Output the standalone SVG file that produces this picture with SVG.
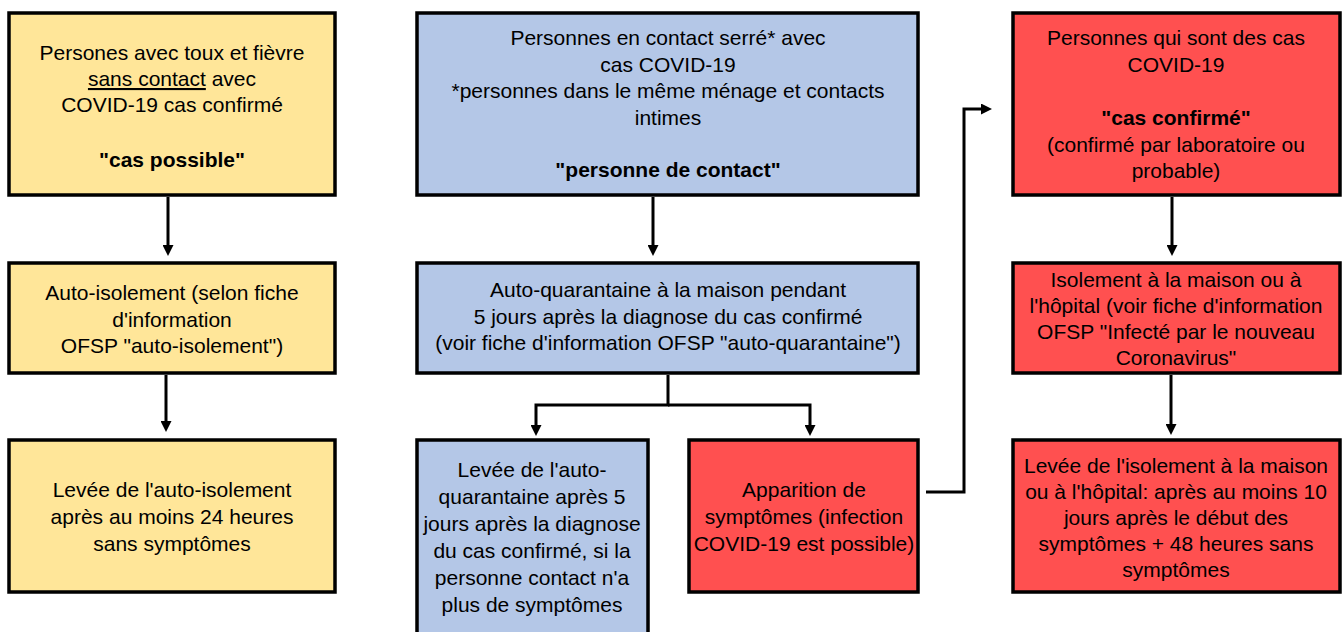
<svg xmlns="http://www.w3.org/2000/svg" width="1344" height="632" viewBox="0 0 1344 632">
<defs>
<style>
.box{stroke:#000;stroke-width:3.5}
.y{fill:#FFE699}
.b{fill:#B4C7E7}
.r{fill:#FF5050}
text{font-family:"Liberation Sans",Arial,sans-serif;font-size:21px;fill:#000;text-anchor:middle}
.bold{font-weight:bold}
.conn{stroke:#000;stroke-width:3;fill:none}
</style>
<marker id="ah" markerUnits="userSpaceOnUse" markerWidth="11" markerHeight="11" refX="3" refY="5.5" orient="auto">
<path d="M0,0 L11,5.5 L0,11 z" fill="#000"/>
</marker>
</defs>
<rect width="1344" height="632" fill="#fff"/>

<g id="connectors">
<path class="conn" d="M168,197 V248" marker-end="url(#ah)"/>
<path class="conn" d="M166,375 V424" marker-end="url(#ah)"/>
<path class="conn" d="M653,197 V248" marker-end="url(#ah)"/>
<path class="conn" d="M668,375 V405 H536 V428" marker-end="url(#ah)"/>
<path class="conn" d="M668,405 H810 V428" marker-end="url(#ah)"/>
<path class="conn" d="M926,492 H964 V109 H984" marker-end="url(#ah)"/>
<path class="conn" d="M1172,197 V248" marker-end="url(#ah)"/>
<path class="conn" d="M1171,375 V427" marker-end="url(#ah)"/>
</g>

<g id="cas-possible">
<rect class="box y" x="9" y="13" width="326" height="182"/>
<text x="172" y="60">Persones avec toux et fièvre</text>
<text x="172" y="86"><tspan text-decoration="underline">sans contact</tspan> avec</text>
<text x="172" y="112">COVID-19 cas confirmé</text>
<text x="172" y="167" class="bold">"cas possible"</text>
</g>

<g id="auto-isolement">
<rect class="box y" x="9" y="263" width="326" height="110"/>
<text x="172" y="300">Auto-isolement (selon fiche</text>
<text x="172" y="327">d'information</text>
<text x="172" y="353">OFSP "auto-isolement")</text>
</g>

<g id="levee-auto-isolement">
<rect class="box y" x="9" y="440" width="326" height="152"/>
<text x="172" y="497">Levée de l'auto-isolement</text>
<text x="172" y="524">après au moins 24 heures</text>
<text x="172" y="551">sans symptômes</text>
</g>

<g id="personne-contact">
<rect class="box b" x="417" y="13" width="501" height="182"/>
<text x="668" y="45">Personnes en contact serré* avec</text>
<text x="668" y="72">cas COVID-19</text>
<text x="668" y="98">*personnes dans le même ménage et contacts</text>
<text x="668" y="125">intimes</text>
<text x="668" y="177" class="bold">"personne de contact"</text>
</g>

<g id="auto-quarantaine">
<rect class="box b" x="417" y="263" width="501" height="110"/>
<text x="668" y="297">Auto-quarantaine à la maison pendant</text>
<text x="668" y="324">5 jours après la diagnose du cas confirmé</text>
<text x="668" y="350">(voir fiche d'information OFSP "auto-quarantaine")</text>
</g>

<g id="levee-auto-quarantaine">
<rect class="box b" x="417" y="440" width="231" height="210"/>
<text x="532" y="477">Levée de l'auto-</text>
<text x="532" y="504">quarantaine après 5</text>
<text x="532" y="531">jours après la diagnose</text>
<text x="532" y="558">du cas confirmé, si la</text>
<text x="532" y="585">personne contact n'a</text>
<text x="532" y="612">plus de symptômes</text>
</g>

<g id="apparition-symptomes">
<rect class="box r" x="689" y="440" width="229" height="152"/>
<text x="804" y="497">Apparition de</text>
<text x="804" y="524">symptômes (infection</text>
<text x="804" y="551">COVID-19 est possible)</text>
</g>

<g id="cas-confirme">
<rect class="box r" x="1013" y="13" width="327" height="182"/>
<text x="1176" y="45">Personnes qui sont des cas</text>
<text x="1176" y="72">COVID-19</text>
<text x="1176" y="125" class="bold">"cas confirmé"</text>
<text x="1176" y="152">(confirmé par laboratoire ou</text>
<text x="1176" y="178">probable)</text>
</g>

<g id="isolement">
<rect class="box r" x="1013" y="263" width="327" height="110"/>
<text x="1176" y="287">Isolement à la maison ou à</text>
<text x="1176" y="313">l'hôpital (voir fiche d'information</text>
<text x="1176" y="339">OFSP "Infecté par le nouveau</text>
<text x="1176" y="365">Coronavirus"</text>
</g>

<g id="levee-isolement">
<rect class="box r" x="1013" y="440" width="327" height="152"/>
<text x="1176" y="473">Levée de l'isolement à la maison</text>
<text x="1176" y="499">ou à l'hôpital: après au moins 10</text>
<text x="1176" y="525">jours après le début des</text>
<text x="1176" y="551">symptômes + 48 heures sans</text>
<text x="1176" y="577">symptômes</text>
</g>
</svg>
